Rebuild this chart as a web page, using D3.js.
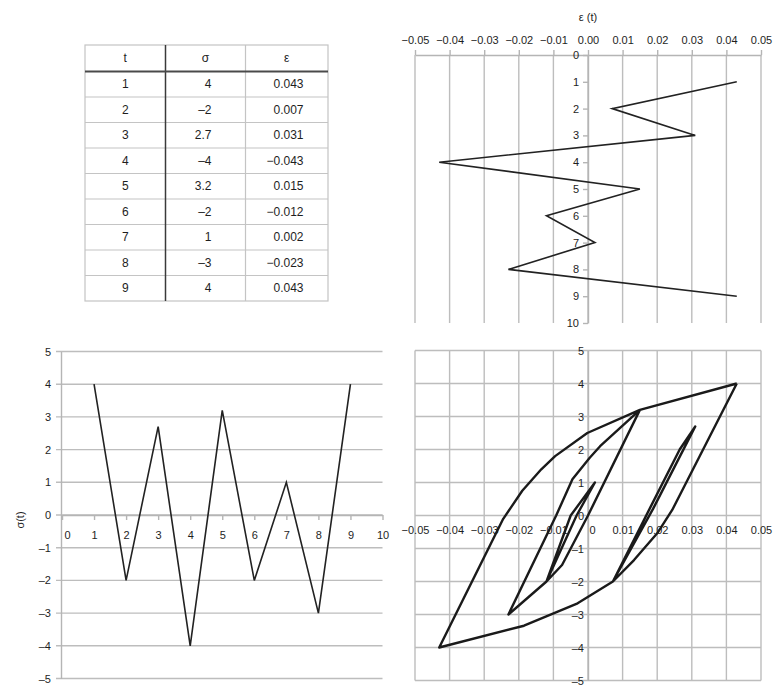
<!DOCTYPE html>
<html>
<head>
<meta charset="utf-8">
<script src="https://cdn.jsdelivr.net/npm/d3@7"></script>
<style>
  body { margin: 0; background: #fff; }
  svg { display: block; font-family: "Liberation Sans", Arial, sans-serif; }
  .grid line, .grid path { stroke: #bdbdbd; stroke-width: 1.4; }
  .ax path, .ax line { stroke: #b5b5b5; stroke-width: 1.4; }
  .ax text, .lbl { fill: #1e1e1e; font-size: 11px; }
</style>
</head>
<body>
<svg id="chart" width="773" height="688"></svg>
<script>
// Loading history: time step, stress and strain
const times  = [1, 2, 3, 4, 5, 6, 7, 8, 9];
const stress = [4, -2, 2.7, -4, 3.2, -2, 1, -3, 4];
const strain = [0.043, 0.007, 0.031, -0.043, 0.015, -0.012, 0.002, -0.023, 0.043];

// Tick values
const strainTicks = [-0.05, -0.04, -0.03, -0.02, -0.01, 0, 0.01, 0.02, 0.03, 0.04, 0.05];
const stressTicks = [-5, -4, -3, -2, -1, 0, 1, 2, 3, 4, 5];
const timeTicks   = [0, 1, 2, 3, 4, 5, 6, 7, 8, 9, 10];

// Stress-strain response including the curved branches between reversals
const loopStrain = [
  0.043,
  0.0243, 0.02, 0.0133, 0.0072,
  0.0178, 0.0265, 0.031,
  0.0188, 0.0072,
  -0.003, -0.0185, -0.043,
  -0.0245, -0.019, -0.0135, -0.0095, -0.0002, 0.015,
  0.0, -0.0075, -0.012,
  -0.005, 0.002,
  -0.0033, -0.012, -0.023,
  -0.0092, -0.0045, 0.0005, 0.0035, 0.015, 0.043
];
const loopStress = [
  4,
  0.16, -0.54, -1.35, -2,
  0.2, 2.0, 2.7,
  0.2, -2,
  -2.66, -3.34, -4,
  -0.1, 0.75, 1.4, 1.8, 2.5, 3.2,
  0.0, -1.5, -2,
  0, 1,
  0, -2, -3,
  0, 1.1, 1.75, 2.1, 3.2, 4
];

const dash = s => s.replace(/-/g, "\u2013");
const fmt2 = d => dash(d3.format(".2f")(d));
const svg = d3.select("#chart");

/* ---------------- table ---------------- */
{
  const colX = [85, 165.5, 245.5, 328];
  const top = 45, headH = 26.5, rowH = 25.5;
  const bottom = top + headH + rowH * times.length;
  const g = svg.append("g");
  const rowY = i => top + headH + rowH * i;

  g.append("rect").attr("x", colX[0]).attr("y", top)
    .attr("width", colX[3] - colX[0]).attr("height", bottom - top)
    .attr("fill", "none").attr("stroke", "#c4c4c4").attr("stroke-width", 1.2);

  g.selectAll(".rowline").data(times.slice(1)).join("line")
    .attr("x1", colX[0]).attr("x2", colX[3])
    .attr("y1", (d, i) => rowY(i + 1)).attr("y2", (d, i) => rowY(i + 1))
    .attr("stroke", "#c4c4c4").attr("stroke-width", 1.2);

  g.append("line").attr("x1", colX[2]).attr("x2", colX[2]).attr("y1", top).attr("y2", bottom)
    .attr("stroke", "#c4c4c4").attr("stroke-width", 1.2);
  g.append("line").attr("x1", colX[1]).attr("x2", colX[1]).attr("y1", top).attr("y2", bottom)
    .attr("stroke", "#3a3a3a").attr("stroke-width", 1.5);
  g.append("line").attr("x1", colX[0]).attr("x2", colX[3]).attr("y1", top + headH).attr("y2", top + headH)
    .attr("stroke", "#4a4a4a").attr("stroke-width", 2);

  const fill = "#1e1e1e", size = "12px";
  const heads = ["t", "\u03c3", "\u03b5"];
  g.selectAll(".head").data(heads).join("text")
    .attr("x", (d, i) => (colX[i] + colX[i + 1]) / 2)
    .attr("y", top + headH / 2).attr("dy", "0.35em")
    .attr("text-anchor", "middle").attr("fill", fill).attr("font-size", size)
    .text(d => d);

  g.selectAll(".ct").data(times).join("text")
    .attr("x", (colX[0] + colX[1]) / 2).attr("y", (d, i) => rowY(i) + rowH / 2).attr("dy", "0.35em")
    .attr("text-anchor", "middle").attr("fill", fill).attr("font-size", size)
    .text(d => d);
  g.selectAll(".cs").data(stress).join("text")
    .attr("x", 211.5).attr("y", (d, i) => rowY(i) + rowH / 2).attr("dy", "0.35em")
    .attr("text-anchor", "end").attr("fill", fill).attr("font-size", size)
    .text(d => dash(String(d)));
  g.selectAll(".ce").data(strain).join("text")
    .attr("x", 303.5).attr("y", (d, i) => rowY(i) + rowH / 2).attr("dy", "0.35em")
    .attr("text-anchor", "end").attr("fill", fill).attr("font-size", size)
    .text(d => dash(d3.format(".3f")(d)));
}

/* ---------------- strain vs time (top right) ---------------- */
{
  const x = d3.scaleLinear().domain([-0.05, 0.05]).range([415, 761]);
  const y = d3.scaleLinear().domain([0, 10]).range([55, 323]);
  const g = svg.append("g");

  g.append("g").attr("class", "grid")
    .selectAll("line").data(strainTicks).join("line")
    .attr("x1", d => x(d)).attr("x2", d => x(d)).attr("y1", y(0)).attr("y2", y(10));

  g.append("g").attr("class", "ax").attr("transform", `translate(0,${y(0)})`)
    .call(d3.axisTop(x).tickValues(strainTicks).tickFormat(fmt2).tickSize(5).tickSizeOuter(0).tickPadding(6));

  g.append("g").attr("class", "ax").attr("transform", `translate(${x(0)},0)`)
    .call(d3.axisLeft(y).tickValues(timeTicks).tickSize(5).tickSizeOuter(0).tickPadding(4));

  g.selectAll(".ax text").attr("font-size", 11).attr("fill", "#1e1e1e");

  g.append("text").attr("class", "lbl").attr("x", x(0)).attr("y", 17).attr("dy", "0.35em")
    .attr("text-anchor", "middle").text("\u03b5 (t)");

  g.append("path").datum(times)
    .attr("fill", "none").attr("stroke", "#222").attr("stroke-width", 1.6)
    .attr("stroke-linejoin", "miter")
    .attr("d", d3.line().x((d, i) => x(strain[i])).y(d => y(d)));
}

/* ---------------- stress vs time (bottom left) ---------------- */
{
  const x = d3.scaleLinear().domain([0, 10]).range([62, 382.5]);
  const y = d3.scaleLinear().domain([-5, 5]).range([678.5, 351.5]);
  const g = svg.append("g");

  g.append("g").attr("class", "grid")
    .selectAll("line").data(stressTicks).join("line")
    .attr("x1", x(0) - 6).attr("x2", x(10)).attr("y1", d => y(d)).attr("y2", d => y(d));

  g.append("g").attr("class", "ax").attr("transform", `translate(${x(0) - 1},0)`)
    .call(d3.axisLeft(y).tickValues(stressTicks).tickFormat(d => dash(String(d)))
      .tickSize(0).tickSizeOuter(0).tickPadding(10));

  const xa = g.append("g").attr("class", "ax").attr("transform", `translate(0,${y(0)})`)
    .call(d3.axisBottom(x).tickValues(timeTicks).tickSize(5).tickSizeOuter(0).tickPadding(11));
  xa.selectAll(".tick").filter(d => d === 0).select("text").attr("dx", 5);

  g.selectAll(".ax text").attr("font-size", 11).attr("fill", "#1e1e1e");

  g.append("text").attr("class", "lbl")
    .attr("transform", `translate(20,${y(0) + 5}) rotate(-90)`)
    .attr("text-anchor", "middle").attr("dy", "0.35em").text("\u03c3(t)");

  g.append("path").datum(times)
    .attr("fill", "none").attr("stroke", "#222").attr("stroke-width", 1.6)
    .attr("d", d3.line().x(d => x(d)).y((d, i) => y(stress[i])));
}

/* ---------------- stress-strain loops (bottom right) ---------------- */
{
  const x = d3.scaleLinear().domain([-0.05, 0.05]).range([415, 761]);
  const y = d3.scaleLinear().domain([-5, 5]).range([680.5, 350.5]);
  const g = svg.append("g");

  const grid = g.append("g").attr("class", "grid");
  grid.selectAll(".v").data(strainTicks).join("line").attr("class", "v")
    .attr("x1", d => x(d)).attr("x2", d => x(d)).attr("y1", y(-5)).attr("y2", y(5));
  grid.selectAll(".h").data(stressTicks).join("line").attr("class", "h")
    .attr("x1", x(-0.05)).attr("x2", x(0.05)).attr("y1", d => y(d)).attr("y2", d => y(d));

  g.append("g").attr("class", "ax").attr("transform", `translate(${x(0)},0)`)
    .call(d3.axisLeft(y).tickValues(stressTicks).tickFormat(d => dash(String(d)))
      .tickSize(0).tickSizeOuter(0).tickPadding(4));

  const xa = g.append("g").attr("class", "ax").attr("transform", `translate(0,${y(0)})`)
    .call(d3.axisBottom(x).tickValues(strainTicks).tickFormat(d => d === 0 ? "0" : fmt2(d))
      .tickSize(0).tickSizeOuter(0).tickPadding(11));
  xa.selectAll(".tick").filter(d => d === 0).select("text").attr("dx", 4);
  xa.select(".domain").remove();

  g.selectAll(".ax text").attr("font-size", 11).attr("fill", "#1e1e1e");

  g.append("path").datum(loopStrain)
    .attr("fill", "none").attr("stroke", "#1a1a1a").attr("stroke-width", 2.4)
    .attr("stroke-linejoin", "round")
    .attr("d", d3.line().x(d => x(d)).y((d, i) => y(loopStress[i])));
}
</script>
</body>
</html>
